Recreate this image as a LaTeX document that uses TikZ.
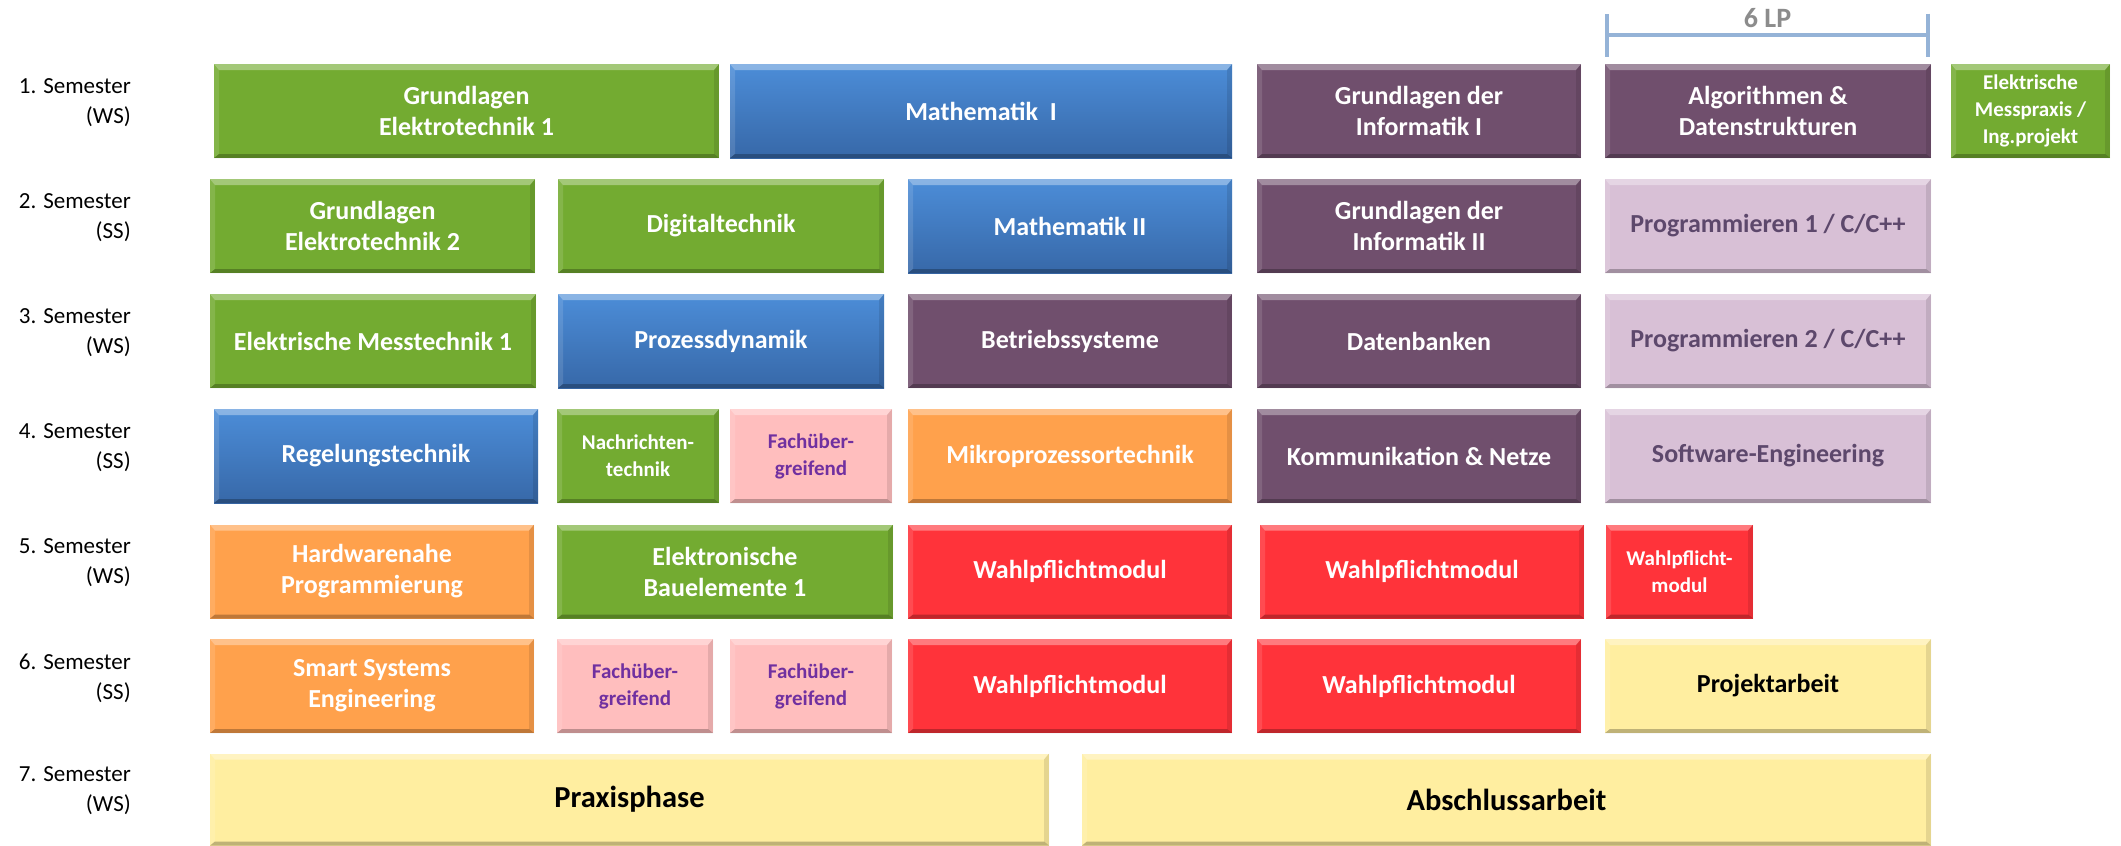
\documentclass[tikz,border=0pt]{standalone}
\usepackage{fontspec}
\setmainfont{Carlito}
\usetikzlibrary{arrows.meta}

\definecolor{gruen}{RGB}{115,171,49}
\definecolor{blauoben}{RGB}{76,141,216}
\definecolor{blauunten}{RGB}{55,104,168}
\definecolor{lila}{RGB}{112,79,109}
\definecolor{hellila}{RGB}{216,192,214}
\definecolor{hellilatext}{RGB}{93,72,108}
\definecolor{rosa}{RGB}{255,190,190}
\definecolor{rosatext}{RGB}{112,48,160}
\definecolor{modorange}{RGB}{255,161,76}
\definecolor{rot}{RGB}{255,51,58}
\definecolor{gelb}{RGB}{255,238,160}
\definecolor{lpblau}{RGB}{149,179,215}
\definecolor{lpgrau}{RGB}{140,140,140}

\tikzset{
  bevel/.style={path picture={
    \fill[white,opacity=0.35] (path picture bounding box.north west) -- (path picture bounding box.north east)
      -- ++(-5pt,-6pt) -- ([shift={(5pt,-6pt)}]path picture bounding box.north west) -- cycle;
    \fill[white,opacity=0.12] (path picture bounding box.north west) -- ++(5pt,-6pt)
      -- ([shift={(5pt,4pt)}]path picture bounding box.south west) -- (path picture bounding box.south west) -- cycle;
    \fill[black,opacity=0.10] (path picture bounding box.north east) -- ++(-5pt,-6pt)
      -- ([shift={(-5pt,4pt)}]path picture bounding box.south east) -- (path picture bounding box.south east) -- cycle;
    \fill[black,opacity=0.25] (path picture bounding box.south west) -- (path picture bounding box.south east)
      -- ++(-5pt,4pt) -- ([shift={(5pt,4pt)}]path picture bounding box.south west) -- cycle;
  }},
  modul/.style={rectangle, inner sep=2pt, minimum height=94pt, align=center,
    font=\bfseries\fontsize{26}{31}\selectfont, text=white, bevel},
  klein/.style={font=\bfseries\fontsize{21}{27}\selectfont},
  gross/.style={font=\bfseries\fontsize{30.5}{36}\selectfont},
  gruenbox/.style={fill=gruen},
  blaubox/.style={top color=blauoben, bottom color=blauunten},
  lilabox/.style={fill=lila},
  hellilabox/.style={fill=hellila, text=hellilatext},
  rosabox/.style={fill=rosa, text=rosatext},
  orangebox/.style={fill=modorange},
  rotbox/.style={fill=rot},
  gelbbox/.style={fill=gelb, text=black},
  semlabel/.style={anchor=east, align=right, inner sep=0pt, font=\fontsize{23}{30}\selectfont}
}

\begin{document}
\begin{tikzpicture}[x=1pt,y=-1pt]
\useasboundingbox (0,0) rectangle (2121,846);

% Semester labels
\foreach \i/\y/\t in {1/111/WS, 2/226/SS, 3/341/WS, 4/456/SS, 5/571/WS, 6/686/SS, 7/799/WS} {
    \node[semlabel] (s\i) at (131,\y-8) {\i. Semester\\(\t)};
}

% 6 LP bracket
\coordinate (lpL) at (1605,35);
\coordinate (lpR) at (1930,35);
\draw[lpblau, line width=4pt, {Bar[width=43pt]}-{Bar[width=43pt]}] (lpL) -- (lpR);
\node[text=lpgrau, font=\bfseries\fontsize{28}{32}\selectfont] (lp) at (1767.5,18) {6 LP};

% 1. Semester
\node[modul, gruenbox, minimum width=505pt] (ge1) at (466.5,111) {Grundlagen\\Elektrotechnik 1};
\node[modul, blaubox, minimum width=502pt] (ma1) at (981,111) {Mathematik\ \ I};
\node[modul, lilabox, minimum width=324pt] (gdi1) at (1419,111) {Grundlagen der\\Informatik I};
\node[modul, lilabox, minimum width=326pt] (ad) at (1768,111) {Algorithmen \&\\Datenstrukturen};
\node[modul, gruenbox, klein, minimum width=159pt] (emp) at (2030.5,111) {Elektrische\\Messpraxis /\\Ing.projekt};

% 2. Semester
\node[modul, gruenbox, minimum width=325pt] (ge2) at (372.5,226) {Grundlagen\\Elektrotechnik 2};
\node[modul, gruenbox, minimum width=326pt] (dt) at (721,226) {Digitaltechnik};
\node[modul, blaubox, minimum width=324pt] (ma2) at (1070,226) {Mathematik II};
\node[modul, lilabox, minimum width=324pt] (gdi2) at (1419,226) {Grundlagen der\\Informatik II};
\node[modul, hellilabox, minimum width=326pt] (prog1) at (1768,226) {Programmieren 1 / C/C++};

% 3. Semester
\node[modul, gruenbox, minimum width=326pt] (emt) at (373,341) {Elektrische Messtechnik 1};
\node[modul, blaubox, minimum width=326pt] (pd) at (721,341) {Prozessdynamik};
\node[modul, lilabox, minimum width=324pt] (bs) at (1070,341) {Betriebssysteme};
\node[modul, lilabox, minimum width=324pt] (db) at (1419,341) {Datenbanken};
\node[modul, hellilabox, minimum width=326pt] (prog2) at (1768,341) {Programmieren 2 / C/C++};

% 4. Semester
\node[modul, blaubox, minimum width=324pt] (rt) at (376,456) {Regelungstechnik};
\node[modul, gruenbox, klein, minimum width=162pt] (nt) at (638,456) {Nachrichten-\\technik};
\node[modul, rosabox, klein, minimum width=162pt] (fue4) at (811,456) {Fachüber-\\greifend};
\node[modul, orangebox, minimum width=324pt] (mpt) at (1070,456) {Mikroprozessortechnik};
\node[modul, lilabox, minimum width=324pt] (kn) at (1419,456) {Kommunikation \& Netze};
\node[modul, hellilabox, minimum width=326pt] (se) at (1768,456) {Software-Engineering};

% 5. Semester
\node[modul, orangebox, minimum width=324pt] (hwp) at (372,571.5) {Hardwarenahe\\Programmierung};
\node[modul, gruenbox, minimum width=336pt] (eb1) at (725,571.5) {Elektronische\\Bauelemente 1};
\node[modul, rotbox, minimum width=324pt] (wp5a) at (1070,571.5) {Wahlpflichtmodul};
\node[modul, rotbox, minimum width=324pt] (wp5b) at (1422,571.5) {Wahlpflichtmodul};
\node[modul, rotbox, klein, minimum width=147pt] (wp5c) at (1679.5,571.5) {Wahlpflicht-\\modul};

% 6. Semester
\node[modul, orangebox, minimum width=324pt] (sse) at (372,686) {Smart Systems\\Engineering};
\node[modul, rosabox, klein, minimum width=156pt] (fue6a) at (635,686) {Fachüber-\\greifend};
\node[modul, rosabox, klein, minimum width=162pt] (fue6b) at (811,686) {Fachüber-\\greifend};
\node[modul, rotbox, minimum width=324pt] (wp6a) at (1070,686) {Wahlpflichtmodul};
\node[modul, rotbox, minimum width=324pt] (wp6b) at (1419,686) {Wahlpflichtmodul};
\node[modul, gelbbox, minimum width=326pt] (pa) at (1768,686) {Projektarbeit};

% 7. Semester
\node[modul, gelbbox, gross, minimum width=839pt, minimum height=92pt] (pp) at (629.5,799.5) {Praxisphase};
\node[modul, gelbbox, gross, minimum width=849pt, minimum height=92pt] (aa) at (1506.5,799.5) {Abschlussarbeit};

\end{tikzpicture}
\end{document}
